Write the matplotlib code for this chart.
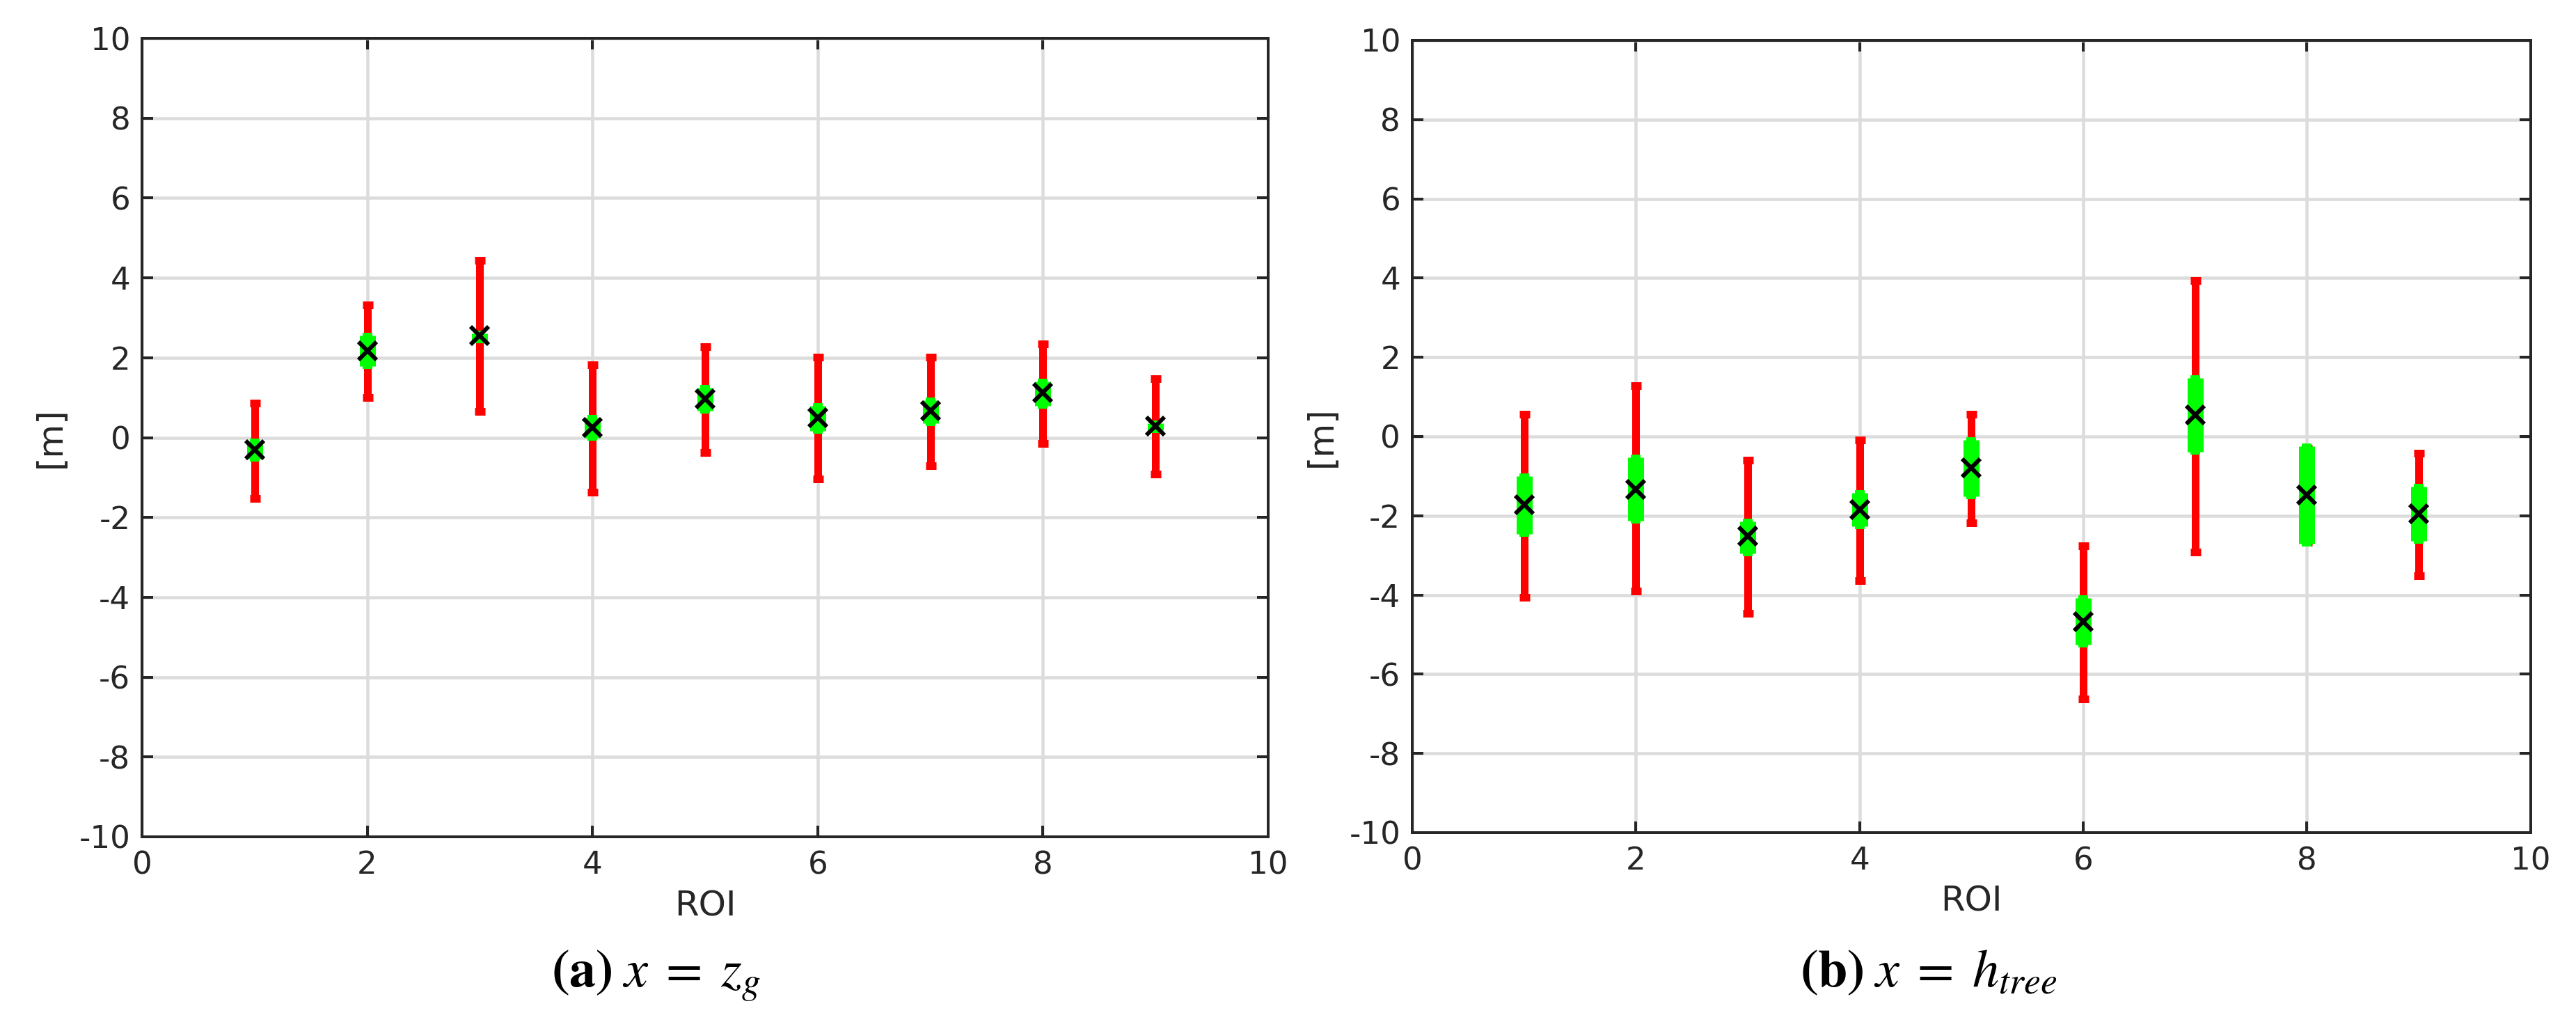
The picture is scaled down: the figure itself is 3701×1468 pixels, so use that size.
import matplotlib
matplotlib.use("Agg")
import matplotlib.pyplot as plt
import numpy as np

# ROI index
roi = [1, 2, 3, 4, 5, 6, 7, 8, 9]

# panel (a): x = z_g
mean_a = [-0.31, 2.17, 2.55, 0.25, 0.97, 0.49, 0.67, 1.12, 0.28]
red_lo_a = [-1.52, 1.00, 0.66, -1.37, -0.38, -1.04, -0.70, -0.14, -0.91]
red_hi_a = [0.87, 3.33, 4.43, 1.82, 2.28, 2.01, 2.01, 2.35, 1.47]
green_lo_a = [-0.54, 1.79, 2.44, -0.01, 0.67, 0.17, 0.35, 0.80, 0.19]
green_hi_a = [-0.10, 2.55, 2.60, 0.50, 1.25, 0.79, 0.94, 1.41, 0.36]

# panel (b): x = h_tree
mean_b = [-1.73, -1.33, -2.52, -1.84, -0.79, -4.68, 0.54, -1.47, -1.95]
red_lo_b = [-4.06, -3.91, -4.47, -3.64, -2.18, -6.63, -2.92, -2.68, -3.51]
red_hi_b = [0.56, 1.29, -0.59, -0.08, 0.56, -2.76, 3.94, -0.30, -0.43]
green_lo_b = [-2.46, -2.12, -2.95, -2.27, -1.52, -5.26, -0.39, -2.71, -2.63]
green_hi_b = [-1.01, -0.52, -2.15, -1.42, -0.08, -4.07, 1.47, -0.25, -1.27]

xticks = [0, 2, 4, 6, 8, 10]
yticks = [-10, -8, -6, -4, -2, 0, 2, 4, 6, 8, 10]
captions = [r"$\mathbf{(a)}\;x\;=\;z_g$", r"$\mathbf{(b)}\;x\;=\;h_{tree}$"]

plt.rcParams['font.family'] = 'DejaVu Sans'
plt.rcParams['mathtext.fontset'] = 'stix'
plt.rcParams['axes.unicode_minus'] = False

DARK = '#262626'
PX = 72 / 100  # points per pixel at dpi 100


def draw_panel(ax, mean, red_lo, red_hi, green_lo, green_hi):
    mean = np.array(mean)
    red_err = [mean - np.array(red_lo), np.array(red_hi) - mean]
    green_err = [mean - np.array(green_lo), np.array(green_hi) - mean]

    ax.errorbar(roi, mean, yerr=red_err, fmt='none', ecolor='#ff0000',
                elinewidth=11 * PX, capsize=7.5 * PX, capthick=11 * PX, zorder=3)
    ax.errorbar(roi, mean, yerr=green_err, fmt='none', ecolor='#00ff00',
                elinewidth=23 * PX, capsize=7 * PX, capthick=8 * PX, zorder=4)
    ax.plot(roi, mean, linestyle='none', marker='x', color='black',
            markersize=26 * PX, markeredgewidth=6 * PX, zorder=5)

    ax.set_xlim(0, 10)
    ax.set_ylim(-10, 10)
    ax.set_xticks(xticks)
    ax.set_yticks(yticks)
    ax.grid(True, color='#dcdcdc', linewidth=4.5 * PX, zorder=0)
    ax.set_axisbelow(True)

    for sp in ax.spines.values():
        sp.set_color(DARK)
        sp.set_linewidth(4 * PX)
    ax.tick_params(direction='in', length=16 * PX, width=4 * PX, colors=DARK,
                   labelsize=32.5, top=True, right=True, pad=14)
    ax.tick_params(axis='y', pad=12)

    ax.set_xlabel('ROI', fontsize=36, color=DARK)
    ax.set_ylabel('[m]', fontsize=36, color=DARK)
    ax.xaxis.set_label_coords(0.5, -0.087)
    ax.xaxis.label.set_va('center')
    ax.yaxis.set_label_coords(-0.081, 0.5)
    ax.yaxis.label.set_va('center')


fig = plt.figure(figsize=(37.01, 14.68), dpi=100)

ax1 = fig.add_axes([0.0551, 0.1812, 0.4372, 0.7813])
ax2 = fig.add_axes([0.5482, 0.1853, 0.4342, 0.7752])

draw_panel(ax1, mean_a, red_lo_a, red_hi_a, green_lo_a, green_hi_a)
draw_panel(ax2, mean_b, red_lo_b, red_hi_b, green_lo_b, green_hi_b)

fig.text(0.2545, 0.0347, captions[0], fontsize=55, ha='center', va='baseline')
fig.text(0.7487, 0.0347, captions[1], fontsize=55, ha='center', va='baseline')

fig.savefig('out.png', dpi=100)
plt.close(fig)
